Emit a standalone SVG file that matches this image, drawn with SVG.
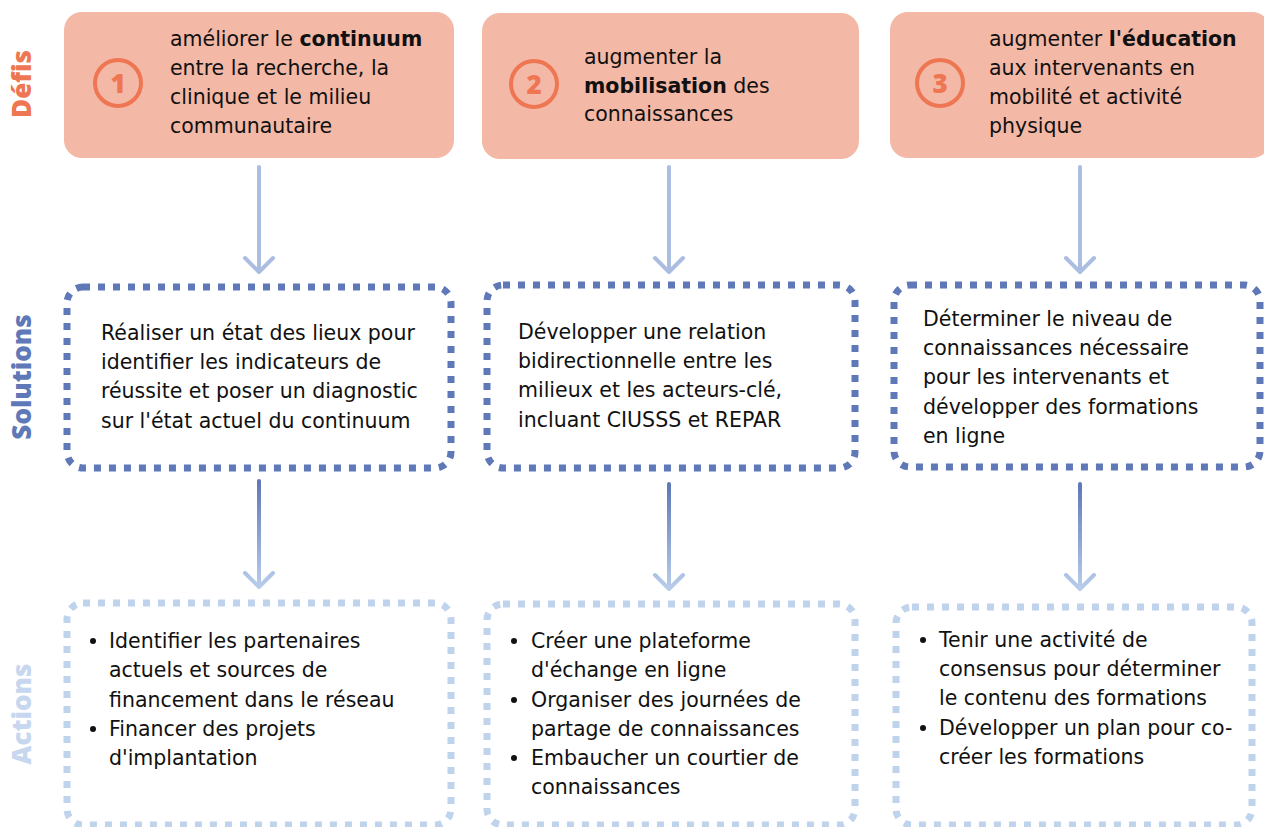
<svg xmlns="http://www.w3.org/2000/svg" width="1264" height="827" viewBox="0 0 1264 827">
<defs>
<style>
.t{font-family:"DejaVu Sans","Open Sans",sans-serif;font-size:20.5px;fill:#111}
.b{font-weight:700}
.side{font-family:"Open Sans","Liberation Sans",sans-serif;font-size:26px;font-weight:800;text-anchor:middle}
.defi{fill:#f4b8a6}
.num{fill:none;stroke:#ee7652;stroke-width:4}
.numt{font-family:"Open Sans","Liberation Sans",sans-serif;font-size:26px;font-weight:800;fill:#ee7652;text-anchor:middle}
.sol{fill:none;stroke:#5e78b8;stroke-width:7;stroke-dasharray:7 8}
.act{fill:none;stroke:#c0d3ed;stroke-width:7;stroke-dasharray:7 8}
.a1{fill:none;stroke:#abbde0;stroke-width:4;stroke-linecap:round;stroke-linejoin:round}
.a2{fill:none;stroke:url(#g);stroke-width:4;stroke-linecap:round;stroke-linejoin:round}
.bul{fill:#111}
</style>
<linearGradient id="g" gradientUnits="objectBoundingBox" x1="0" y1="0" x2="0" y2="1">
<stop offset="0" stop-color="#5e78b8"/>
<stop offset="1" stop-color="#b9cdeb"/>
</linearGradient>
</defs>
<rect width="1264" height="827" fill="#fff"/>

<g id="labels">
<text class="side" fill="#ee7652" transform="translate(31,84) rotate(-90)">Défis</text>
<text class="side" fill="#5e78b8" transform="translate(31,377) rotate(-90)">Solutions</text>
<text class="side" fill="#c6d7ef" transform="translate(31,714) rotate(-90)">Actions</text>
</g>

<g id="connectors">
<path class="a1" d="M259 167V272M245 258L259 272L273 258"/>
<path class="a1" d="M669 167V272M655 258L669 272L683 258"/>
<path class="a1" d="M1080 167V272M1066 258L1080 272L1094 258"/>
<path class="a2" d="M259 481V587M245 573L259 587L273 573"/>
<path class="a2" d="M669 484V589M655 575L669 589L683 575"/>
<path class="a2" d="M1080 484V589M1066 575L1080 589L1094 575"/>
</g>

<g id="defi1">
<rect class="defi" x="64" y="12" width="390" height="146" rx="18"/>
<circle class="num" cx="118" cy="83" r="23"/>
<text class="numt" x="118" y="93">1</text>
<text class="t" x="170" y="46">améliorer le <tspan class="b">continuum</tspan></text>
<text class="t" x="170" y="75">entre la recherche, la</text>
<text class="t" x="170" y="104">clinique et le milieu</text>
<text class="t" x="170" y="133">communautaire</text>
</g>
<g id="defi2">
<rect class="defi" x="482" y="13" width="377" height="146" rx="18"/>
<circle class="num" cx="534" cy="84" r="23"/>
<text class="numt" x="534" y="94">2</text>
<text class="t" x="584" y="64">augmenter la</text>
<text class="t" x="584" y="93"><tspan class="b">mobilisation</tspan> des</text>
<text class="t" x="584" y="121">connaissances</text>
</g>
<g id="defi3">
<rect class="defi" x="890" y="12" width="380" height="146" rx="18"/>
<circle class="num" cx="940" cy="83" r="23"/>
<text class="numt" x="940" y="93">3</text>
<text class="t" x="989" y="46">augmenter <tspan class="b">l'éducation</tspan></text>
<text class="t" x="989" y="75">aux intervenants en</text>
<text class="t" x="989" y="104">mobilité et activité</text>
<text class="t" x="989" y="133">physique</text>
</g>

<g id="solution1">
<rect class="sol" x="67" y="287" width="384" height="181" rx="16"/>
<text class="t" x="101" y="340">Réaliser un état des lieux pour</text>
<text class="t" x="101" y="369">identifier les indicateurs de</text>
<text class="t" x="101" y="398">réussite et poser un diagnostic</text>
<text class="t" x="101" y="428">sur l'état actuel du continuum</text>
</g>
<g id="solution2">
<rect class="sol" x="487" y="285" width="368" height="183" rx="16"/>
<text class="t" x="518" y="339">Développer une relation</text>
<text class="t" x="518" y="368">bidirectionnelle entre les</text>
<text class="t" x="518" y="397">milieux et les acteurs-clé,</text>
<text class="t" x="518" y="427">incluant CIUSSS et REPAR</text>
</g>
<g id="solution3">
<rect class="sol" x="894" y="285" width="366" height="182" rx="16"/>
<text class="t" x="923" y="326">Déterminer le niveau de</text>
<text class="t" x="923" y="355">connaissances nécessaire</text>
<text class="t" x="923" y="384">pour les intervenants et</text>
<text class="t" x="923" y="414">développer des formations</text>
<text class="t" x="923" y="443">en ligne</text>
</g>

<g id="action1">
<rect class="act" x="67" y="603" width="384" height="222" rx="16"/>
<circle class="bul" cx="93" cy="641" r="3"/>
<circle class="bul" cx="93" cy="729" r="3"/>
<text class="t" x="109" y="648">Identifier les partenaires</text>
<text class="t" x="109" y="677">actuels et sources de</text>
<text class="t" x="109" y="707">financement dans le réseau</text>
<text class="t" x="109" y="736">Financer des projets</text>
<text class="t" x="109" y="765">d'implantation</text>
</g>
<g id="action2">
<rect class="act" x="487" y="604" width="368" height="221" rx="16"/>
<circle class="bul" cx="514" cy="641" r="3"/>
<circle class="bul" cx="514" cy="700" r="3"/>
<circle class="bul" cx="514" cy="758" r="3"/>
<text class="t" x="531" y="648">Créer une plateforme</text>
<text class="t" x="531" y="677">d'échange en ligne</text>
<text class="t" x="531" y="707">Organiser des journées de</text>
<text class="t" x="531" y="736">partage de connaissances</text>
<text class="t" x="531" y="765">Embaucher un courtier de</text>
<text class="t" x="531" y="794">connaissances</text>
</g>
<g id="action3">
<rect class="act" x="896" y="607" width="356" height="218" rx="16"/>
<circle class="bul" cx="923" cy="640" r="3"/>
<circle class="bul" cx="923" cy="728" r="3"/>
<text class="t" x="939" y="647">Tenir une activité de</text>
<text class="t" x="939" y="676">consensus pour déterminer</text>
<text class="t" x="939" y="705">le contenu des formations</text>
<text class="t" x="939" y="735">Développer un plan pour co-</text>
<text class="t" x="939" y="764">créer les formations</text>
</g>
</svg>
